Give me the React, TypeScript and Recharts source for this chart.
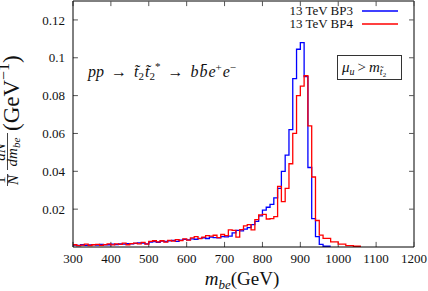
import React from 'react';
import { LineChart, Line, XAxis, YAxis, ReferenceLine } from 'recharts';

// left edges of the 10 GeV bins (last entry closes the final bin)
const binEdges = [
  300, 310, 320, 330, 340, 350, 360, 370, 380, 390,
  400, 410, 420, 430, 440, 450, 460, 470, 480, 490,
  500, 510, 520, 530, 540, 550, 560, 570, 580, 590,
  600, 610, 620, 630, 640, 650, 660, 670, 680, 690,
  700, 710, 720, 730, 740, 750, 760, 770, 780, 790,
  800, 810, 820, 830, 840, 850, 860, 870, 880, 890,
  900, 910, 920, 930, 940, 950, 960, 970, 980, 990,
  1000, 1010, 1020, 1030, 1040, 1050, 1060,
];

// 13 TeV BP3 (blue)
const bp3 = [
  0.0010, 0.0008, 0.0012, 0.0009, 0.0011, 0.0013, 0.0010, 0.0014, 0.0011, 0.0012,
  0.0015, 0.0013, 0.0016, 0.0015, 0.0018, 0.0016, 0.0019, 0.0022, 0.0020, 0.0017,
  0.0026, 0.0028, 0.0025, 0.0031, 0.0029, 0.0032, 0.0035, 0.0030, 0.0036, 0.0040,
  0.0038, 0.0043, 0.0041, 0.0046, 0.0049, 0.0045, 0.0052, 0.0050, 0.0048, 0.0055,
  0.0053, 0.0058, 0.0075, 0.0088, 0.0085, 0.0094, 0.0102, 0.0118, 0.0135, 0.0165,
  0.0195, 0.0210, 0.0225, 0.0260, 0.0310, 0.0400, 0.0486, 0.0620, 0.0890, 0.1045,
  0.1080, 0.0900, 0.0420, 0.0150, 0.0055, 0.0014, 0.0004, 0.0004, 0.0004, null,
  null, null, null, null, null, null, null,
];

// 13 TeV BP4 (red)
const bp4 = [
  0.0012, 0.0007, 0.0010, 0.0015, 0.0008, 0.0012, 0.0014, 0.0009, 0.0013, 0.0016,
  0.0011, 0.0017, 0.0014, 0.0020, 0.0012, 0.0018, 0.0021, 0.0017, 0.0024, 0.0015,
  0.0030, 0.0033, 0.0027, 0.0033, 0.0026, 0.0035, 0.0031, 0.0039, 0.0034, 0.0043,
  0.0036, 0.0048, 0.0055, 0.0044, 0.0052, 0.0060, 0.0058, 0.0062, 0.0050, 0.0066,
  0.0060, 0.0090, 0.0088, 0.0052, 0.0092, 0.0112, 0.0118, 0.0090, 0.0145, 0.0170,
  0.0172, 0.0148, 0.0150, 0.0160, 0.0320, 0.0240, 0.0310, 0.0440, 0.0600, 0.0800,
  0.0850, 0.0905, 0.0640, 0.0370, 0.0140, 0.0063, 0.0046, 0.0046, 0.0027, 0.0027,
  0.0015, 0.0015, 0.0007, 0.0007, 0.0004, 0.0004, 0.0004,
];

const xTicks = [300, 400, 500, 600, 700, 800, 900, 1000, 1100, 1200];
const xTickLabels = ['300', '400', '500', '600', '700', '800', '900', '1000', '1100', '1200'];
const yTicks = [0.02, 0.04, 0.06, 0.08, 0.1, 0.12];
const yTickLabels = ['0.02', '0.04', '0.06', '0.08', '0.1', '0.12'];
const seriesNames = ['13 TeV BP3', '13 TeV BP4'];
const seriesColors = ['#0000ff', '#ff0000'];

const data = binEdges.map((m, i) => ({ m, bp3: bp3[i], bp4: bp4[i] }));

const FONT = '"Liberation Serif", "Times New Roman", Times, serif';
const X_MIN = 300;
const X_MAX = 1200;
const Y_MIN = 0;
const Y_MAX = 0.13;
const X_TICK_LEN = 0.0027;
const Y_TICK_LEN = 13;

const XTick = (props: any) => {
  const { x, y, index } = props;
  return (
    <text x={x} y={y} dy="0.71em" textAnchor="middle" fontSize={13} fill="#111" style={{ fontFamily: FONT }}>
      {xTickLabels[index]}
    </text>
  );
};

const YTick = (props: any) => {
  const { x, y, index } = props;
  return (
    <text x={x} y={y} dy="0.355em" textAnchor="end" fontSize={13} fill="#111" style={{ fontFamily: FONT }}>
      {yTickLabels[index]}
    </text>
  );
};

export default function App() {
  return (
    <div
      style={{
        position: 'absolute',
        left: 0,
        top: 0,
        width: 428,
        height: 291,
        background: '#fff',
        fontFamily: FONT,
      }}
    >
      <LineChart
        width={428}
        height={291}
        data={data}
        margin={{ top: 1, right: 14, bottom: 0, left: 0 }}
        style={{ fontFamily: FONT }}
      >
        <XAxis
          type="number"
          dataKey="m"
          domain={[X_MIN, X_MAX]}
          ticks={xTicks}
          interval={0}
          allowDataOverflow
          tickLine={false}
          tickSize={6}
          tickMargin={1}
          height={44}
          axisLine={{ stroke: '#000', strokeWidth: 1 }}
          tick={<XTick />}
        />
        <YAxis
          type="number"
          domain={[Y_MIN, Y_MAX]}
          ticks={yTicks}
          interval={0}
          allowDataOverflow
          tickLine={false}
          tickSize={6}
          tickMargin={2}
          width={73}
          axisLine={{ stroke: '#000', strokeWidth: 1 }}
          tick={<YTick />}
        />
        <ReferenceLine y={Y_MAX} stroke="#000" strokeWidth={1} />
        <ReferenceLine x={X_MAX} stroke="#000" strokeWidth={1} />
        {xTicks.map((t) => (
          <ReferenceLine key={'xb' + t} segment={[{ x: t, y: Y_MIN }, { x: t, y: Y_MIN + X_TICK_LEN }]} stroke="#555" />
        ))}
        {xTicks.map((t) => (
          <ReferenceLine key={'xt' + t} segment={[{ x: t, y: Y_MAX }, { x: t, y: Y_MAX - X_TICK_LEN }]} stroke="#555" />
        ))}
        {yTicks.map((t) => (
          <ReferenceLine key={'yl' + t} segment={[{ x: X_MIN, y: t }, { x: X_MIN + Y_TICK_LEN, y: t }]} stroke="#555" />
        ))}
        {yTicks.map((t) => (
          <ReferenceLine key={'yr' + t} segment={[{ x: X_MAX, y: t }, { x: X_MAX - Y_TICK_LEN, y: t }]} stroke="#555" />
        ))}
        <Line
          type="stepAfter"
          dataKey="bp3"
          name={seriesNames[0]}
          stroke={seriesColors[0]}
          strokeWidth={1.3}
          dot={false}
          activeDot={false}
          connectNulls={false}
          isAnimationActive={false}
        />
        <Line
          type="stepAfter"
          dataKey="bp4"
          name={seriesNames[1]}
          stroke={seriesColors[1]}
          strokeWidth={1.3}
          dot={false}
          activeDot={false}
          connectNulls={false}
          isAnimationActive={false}
        />
      </LineChart>
      <svg
        width={428}
        height={291}
        style={{ position: 'absolute', left: 0, top: 0, pointerEvents: 'none', fontFamily: FONT }}
      >
        {/* legend */}
        <text x={353} y={15} fontSize={13} textAnchor="end" fill="#111">{seriesNames[0]}</text>
        <line x1={362} x2={398} y1={11} y2={11} stroke={seriesColors[0]} strokeWidth={1.3} />
        <text x={353} y={28} fontSize={13} textAnchor="end" fill="#111">{seriesNames[1]}</text>
        <line x1={362} x2={398} y1={24} y2={24} stroke={seriesColors[1]} strokeWidth={1.3} />

        {/* process annotation */}
        <text x={88} y={77} fontSize={16} fill="#111" fontStyle="italic">
          <tspan>pp</tspan>
          <tspan fontStyle="normal" dx={7}>→</tspan>
          <tspan dx={7}>t̃</tspan>
          <tspan fontSize={11} fontStyle="normal" dy={3}>2</tspan>
          <tspan dx={1} dy={-3}>t̃</tspan>
          <tspan fontSize={11} fontStyle="normal" dy={3}>2</tspan>
          <tspan fontSize={11} fontStyle="normal" dy={-10}>*</tspan>
          <tspan fontStyle="normal" dx={7} dy={7}>→</tspan>
          <tspan dx={7}>b</tspan>
          <tspan dx={1}>b̄</tspan>
          <tspan dx={1}>e</tspan>
          <tspan fontSize={11} fontStyle="normal" dy={-6}>+</tspan>
          <tspan dx={1} dy={6}>e</tspan>
          <tspan fontSize={11} fontStyle="normal" dy={-6}>−</tspan>
        </text>

        {/* condition box */}
        <rect x={337.5} y={55.5} width={64} height={24} fill="#fff" stroke="#333" strokeWidth={1} />
        <text x={342} y={72} fontSize={15} fill="#111" fontStyle="italic">
          <tspan>μ</tspan>
          <tspan fontSize={10} dy={3}>u</tspan>
          <tspan fontStyle="normal" dx={3} dy={-3}>&gt;</tspan>
          <tspan dx={3}>m</tspan>
          <tspan fontSize={10} dy={3}>t̃</tspan>
          <tspan fontSize={7} fontStyle="normal" dy={2}>2</tspan>
        </text>

        {/* x-axis title */}
        <text x={242} y={285} fontSize={19} fill="#111" textAnchor="middle">
          <tspan fontStyle="italic">m</tspan>
          <tspan fontStyle="italic" fontSize={13} dy={4}>be</tspan>
          <tspan dy={-4}>(GeV)</tspan>
        </text>

        {/* y-axis title */}
        <g transform="translate(0,190) rotate(-90)" fill="#111">
          <text x={10} y={5} fontSize={15} textAnchor="middle">1</text>
          <line x1={4} x2={16} y1={7.5} y2={7.5} stroke="#111" strokeWidth={0.8} />
          <text x={10} y={18} fontSize={15} textAnchor="middle" fontStyle="italic">N</text>
          <text x={38} y={5} fontSize={15} textAnchor="middle" fontStyle="italic">dN</text>
          <line x1={20} x2={57} y1={7.5} y2={7.5} stroke="#111" strokeWidth={0.8} />
          <text x={38} y={17} fontSize={15} textAnchor="middle" fontStyle="italic">
            <tspan>dm</tspan>
            <tspan fontSize={11} dy={3}>be</tspan>
          </text>
          <text x={59} y={19} fontSize={23}>
            <tspan>(GeV</tspan>
            <tspan fontSize={16} dy={-10}>−1</tspan>
            <tspan dy={10}>)</tspan>
          </text>
        </g>
      </svg>
    </div>
  );
}
